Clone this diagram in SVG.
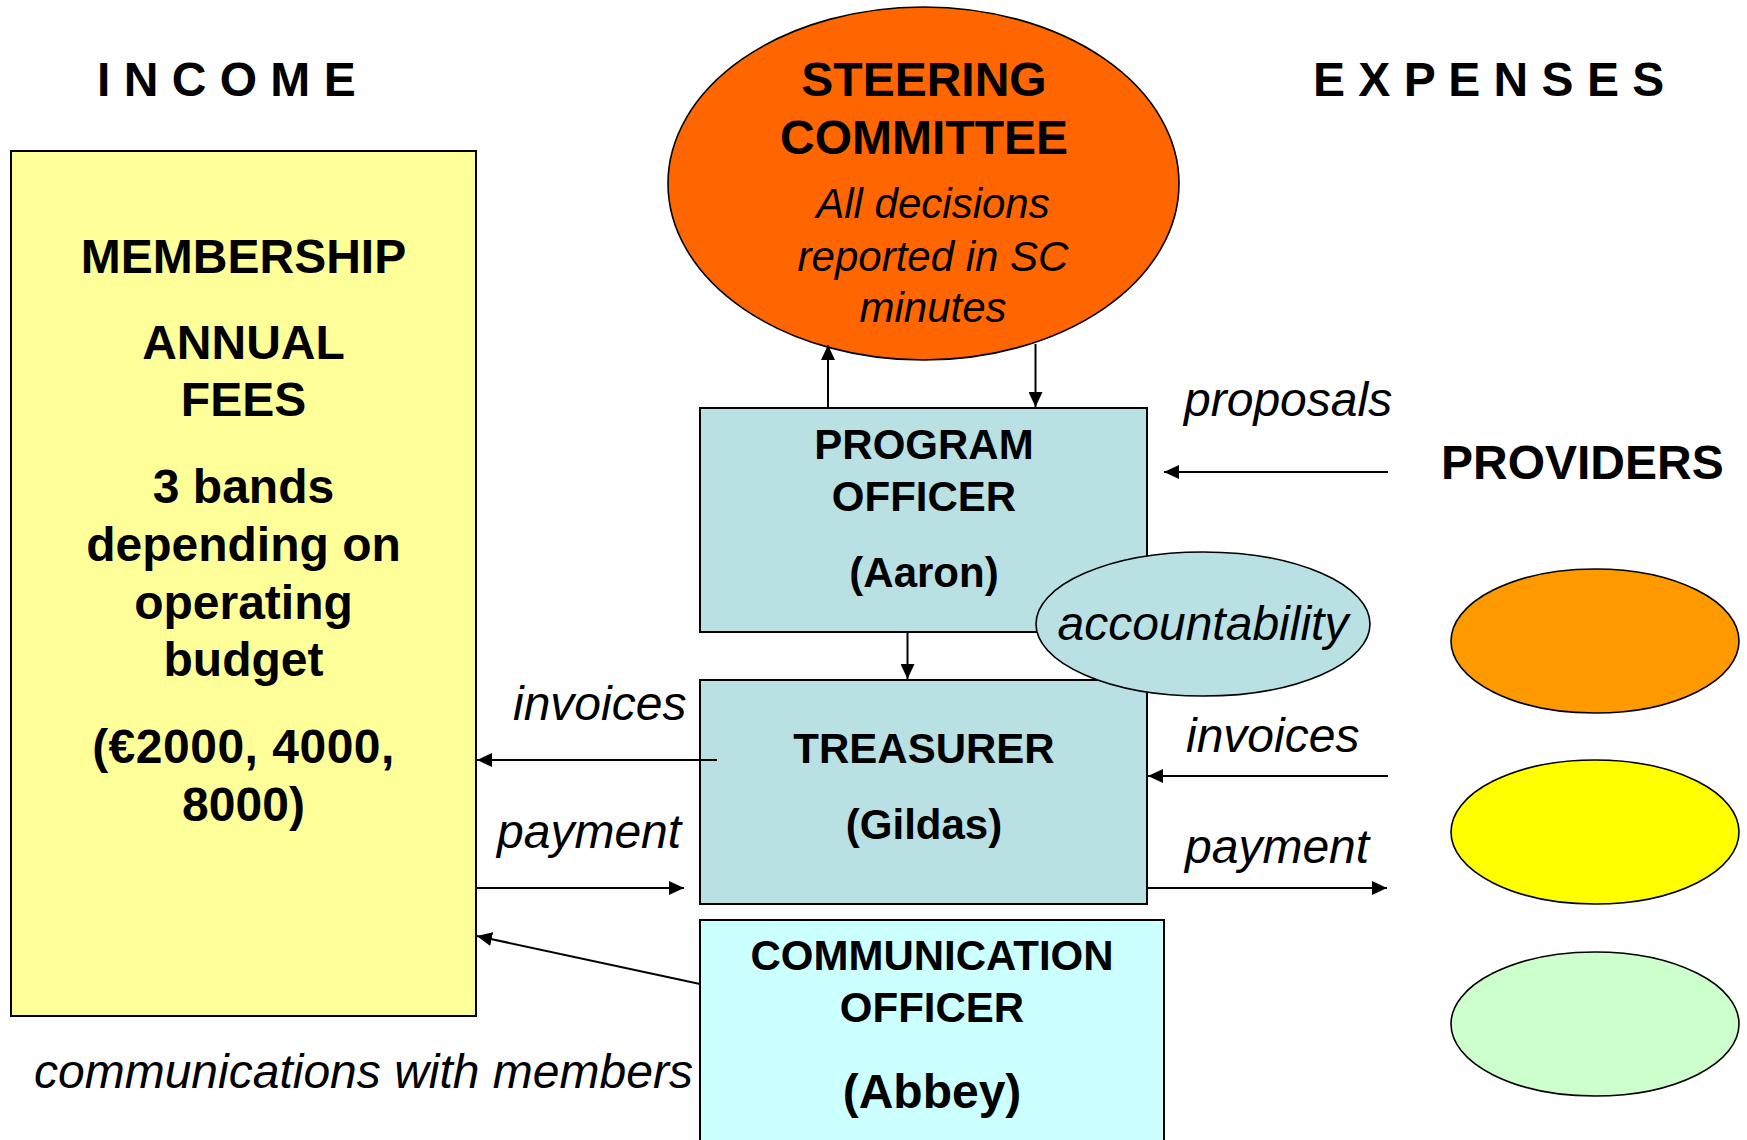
<svg xmlns="http://www.w3.org/2000/svg" width="1747" height="1140" viewBox="0 0 1747 1140">
<defs>
<style>
.b{font-family:"Liberation Sans",Arial,sans-serif;font-weight:bold;fill:#000}
.i{font-family:"Liberation Sans",Arial,sans-serif;font-style:italic;fill:#000}
.c{text-anchor:middle}
.box{stroke:#000;stroke-width:2}
.ell{stroke:#000;stroke-width:1.6}
.con{stroke:#000;stroke-width:2;fill:none;marker-end:url(#ah)}
</style>
<marker id="ah" markerUnits="userSpaceOnUse" markerWidth="16" markerHeight="14" refX="15" refY="7" orient="auto">
<path d="M0,0 L15,7 L0,14 z" fill="#000"/>
</marker>
</defs>
<rect width="1747" height="1140" fill="#fff"/>

<g id="headings">
<text class="b" x="97" y="96" font-size="48">I N C O M E</text>
<text class="b" x="1313" y="96" font-size="48">E X P E N S E S</text>
</g>

<g id="membership">
<rect class="box" x="11" y="151" width="465" height="865" fill="#FFFF99"/>
<g class="b c" font-size="48">
<text x="243.5" y="273">MEMBERSHIP</text>
<text x="243.5" y="359">ANNUAL</text>
<text x="243.5" y="416">FEES</text>
<text x="243.5" y="503">3 bands</text>
<text x="243.5" y="561">depending on</text>
<text x="243.5" y="619">operating</text>
<text x="243.5" y="676">budget</text>
<text x="243.5" y="763" letter-spacing="0.5">(€2000, 4000,</text>
<text x="243.5" y="821">8000)</text>
</g>
</g>

<g id="steering">
<ellipse class="ell" cx="923.5" cy="183.5" rx="255.5" ry="176.5" fill="#FF6600"/>
<text class="b c" x="924" y="96" font-size="48">STEERING</text>
<text class="b c" x="924" y="154" font-size="48">COMMITTEE</text>
<text class="i c" x="933" y="218" font-size="42">All decisions</text>
<text class="i c" x="933" y="271" font-size="42">reported in SC</text>
<text class="i c" x="933" y="322" font-size="42">minutes</text>
</g>

<g id="program-officer">
<rect class="box" x="700" y="408" width="447" height="224" fill="#B9E0E3"/>
<text class="b c" x="924" y="459" font-size="42">PROGRAM</text>
<text class="b c" x="924" y="511" font-size="42">OFFICER</text>
<text class="b c" x="924" y="587" font-size="42">(Aaron)</text>
</g>

<g id="treasurer">
<rect class="box" x="700" y="680" width="447" height="224" fill="#B9E0E3"/>
<text class="b c" x="924" y="763" font-size="42">TREASURER</text>
<text class="b c" x="924" y="839" font-size="42">(Gildas)</text>
</g>

<g id="accountability">
<ellipse class="ell" cx="1203" cy="624" rx="167" ry="72" fill="#B9E0E3"/>
<text class="i c" x="1203" y="640" font-size="48">accountability</text>
</g>

<g id="communication-officer">
<rect class="box" x="700" y="920" width="464" height="232" fill="#CCFFFF"/>
<text class="b c" x="932" y="970" font-size="42">COMMUNICATION</text>
<text class="b c" x="932" y="1022" font-size="42">OFFICER</text>
<text class="b c" x="932" y="1108" font-size="48">(Abbey)</text>
</g>

<g id="providers">
<text class="b" x="1441" y="479" font-size="48">PROVIDERS</text>
<ellipse class="ell" cx="1595" cy="641" rx="144" ry="72" fill="#FF9900"/>
<ellipse class="ell" cx="1595" cy="832" rx="144" ry="72" fill="#FFFF00"/>
<ellipse class="ell" cx="1595" cy="1024" rx="144" ry="72" fill="#CCFFCC"/>
</g>

<g id="connectors">
<line class="con" x1="828" y1="408" x2="828" y2="345"/>
<line class="con" x1="1035.5" y1="344" x2="1035.5" y2="407"/>
<line class="con" x1="907.5" y1="632" x2="907.5" y2="679"/>
<line class="con" x1="1388" y1="472" x2="1164" y2="472"/>
<line class="con" x1="1388" y1="776" x2="1148" y2="776"/>
<line class="con" x1="1147" y1="888" x2="1387" y2="888"/>
<line class="con" x1="717" y1="760" x2="477" y2="760"/>
<line class="con" x1="476" y1="888" x2="684" y2="888"/>
<line class="con" x1="700" y1="984" x2="477" y2="936"/>
</g>

<g id="labels">
<text class="i" x="1184" y="416" font-size="48">proposals</text>
<text class="i" x="1186" y="752" font-size="48">invoices</text>
<text class="i" x="1185" y="863" font-size="48">payment</text>
<text class="i" x="513" y="720" font-size="48">invoices</text>
<text class="i" x="497" y="848" font-size="48">payment</text>
<text class="i" x="34" y="1088" font-size="48">communications with members</text>
</g>
</svg>
